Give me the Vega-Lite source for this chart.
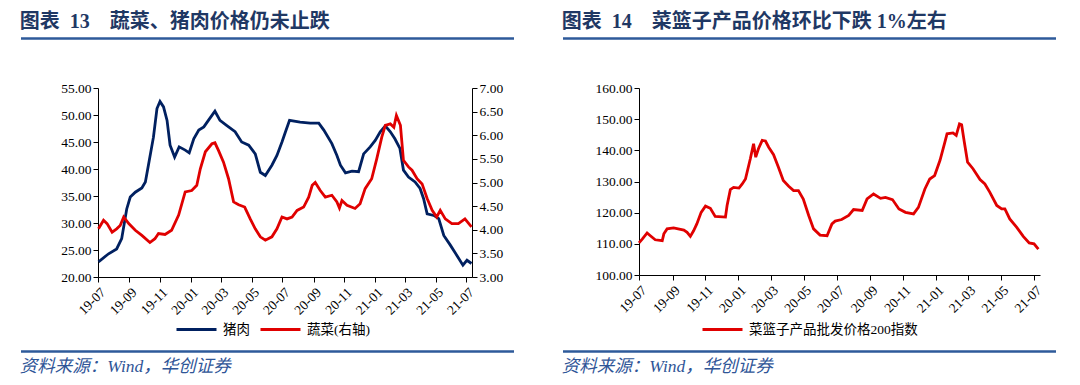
{
  "$schema": "https://vega.github.io/schema/vega-lite/v6.json",
  "background": "white",
  "padding": {"left": 19, "top": 12, "right": 0, "bottom": 0},
  "config": {
    "view": {"stroke": null},
    "axis": {"domainColor": "#000000", "tickColor": "#000000", "labelColor": "#000000", "labelFont": "Liberation Serif", "labelFontSize": 13.5, "tickSize": 5, "grid": false},
    "legend": {"orient": "none", "direction": "horizontal", "symbolType": "stroke", "symbolSize": 1600, "symbolStrokeWidth": 3, "labelFont": "Liberation Serif, Noto Sans CJK SC", "labelFontSize": 13.5, "labelColor": "#000000", "columnPadding": 4, "labelOffset": 5, "labelLimit": 400},
    "title": {"font": "Liberation Serif, Noto Sans CJK SC"}
  },
  "datasets": {
    "pork": [
      {"date": "2019-07-02", "value": 22.8}, {"date": "2019-07-22", "value": 24.3}, {"date": "2019-08-07", "value": 25.2}, {"date": "2019-08-17", "value": 27.1}, {"date": "2019-08-27", "value": 32.6}, {"date": "2019-09-03", "value": 34.8}, {"date": "2019-09-13", "value": 35.7}, {"date": "2019-09-26", "value": 36.5}, {"date": "2019-10-03", "value": 37.6}, {"date": "2019-10-09", "value": 40.7}, {"date": "2019-10-19", "value": 45.9}, {"date": "2019-10-26", "value": 51.2}, {"date": "2019-11-01", "value": 52.5}, {"date": "2019-11-08", "value": 51.5}, {"date": "2019-11-15", "value": 49.0}, {"date": "2019-11-21", "value": 44.4}, {"date": "2019-11-30", "value": 42.2}, {"date": "2019-12-09", "value": 44.1}, {"date": "2019-12-21", "value": 43.5}, {"date": "2019-12-29", "value": 43.0},
      {"date": "2020-01-07", "value": 45.6}, {"date": "2020-01-17", "value": 47.2}, {"date": "2020-01-27", "value": 47.8}, {"date": "2020-02-05", "value": 49.0}, {"date": "2020-02-18", "value": 50.7}, {"date": "2020-02-28", "value": 49.0}, {"date": "2020-03-12", "value": 48.1}, {"date": "2020-03-29", "value": 46.9}, {"date": "2020-04-11", "value": 45.0}, {"date": "2020-04-25", "value": 44.4}, {"date": "2020-05-08", "value": 42.8}, {"date": "2020-05-18", "value": 39.4}, {"date": "2020-05-28", "value": 38.8}, {"date": "2020-06-10", "value": 40.7}, {"date": "2020-06-20", "value": 42.5}, {"date": "2020-06-30", "value": 45.0}, {"date": "2020-07-07", "value": 46.9}, {"date": "2020-07-15", "value": 49.0}, {"date": "2020-08-05", "value": 48.7}, {"date": "2020-08-25", "value": 48.5}, {"date": "2020-09-11", "value": 48.5}, {"date": "2020-09-21", "value": 47.2}, {"date": "2020-10-07", "value": 44.7}, {"date": "2020-10-17", "value": 42.5}, {"date": "2020-10-24", "value": 40.7}, {"date": "2020-11-03", "value": 39.3}, {"date": "2020-11-16", "value": 39.6}, {"date": "2020-11-29", "value": 39.5}, {"date": "2020-12-09", "value": 42.8}, {"date": "2020-12-22", "value": 44.1},
      {"date": "2021-01-01", "value": 45.3}, {"date": "2021-01-11", "value": 46.9}, {"date": "2021-01-21", "value": 48.0}, {"date": "2021-01-31", "value": 46.9}, {"date": "2021-02-09", "value": 45.6}, {"date": "2021-02-19", "value": 43.8}, {"date": "2021-02-26", "value": 39.8}, {"date": "2021-03-08", "value": 38.5}, {"date": "2021-03-21", "value": 37.6}, {"date": "2021-03-31", "value": 36.4}, {"date": "2021-04-07", "value": 34.5}, {"date": "2021-04-14", "value": 31.7}, {"date": "2021-04-27", "value": 31.4}, {"date": "2021-05-07", "value": 30.8}, {"date": "2021-05-17", "value": 27.7}, {"date": "2021-05-30", "value": 25.9}, {"date": "2021-06-12", "value": 24.0}, {"date": "2021-06-24", "value": 22.2}, {"date": "2021-07-02", "value": 23.1}, {"date": "2021-07-11", "value": 22.5}
    ],
    "veg": [
      {"date": "2019-07-02", "value": 4.02}, {"date": "2019-07-12", "value": 4.20}, {"date": "2019-07-19", "value": 4.13}, {"date": "2019-07-29", "value": 3.95}, {"date": "2019-08-07", "value": 4.02}, {"date": "2019-08-14", "value": 4.09}, {"date": "2019-08-21", "value": 4.27}, {"date": "2019-08-31", "value": 4.13}, {"date": "2019-09-13", "value": 3.99}, {"date": "2019-09-26", "value": 3.88}, {"date": "2019-10-12", "value": 3.73}, {"date": "2019-10-22", "value": 3.81}, {"date": "2019-10-29", "value": 3.92}, {"date": "2019-11-11", "value": 3.90}, {"date": "2019-11-24", "value": 3.99}, {"date": "2019-12-08", "value": 4.31}, {"date": "2019-12-21", "value": 4.80},
      {"date": "2020-01-03", "value": 4.83}, {"date": "2020-01-13", "value": 4.94}, {"date": "2020-01-20", "value": 5.29}, {"date": "2020-01-30", "value": 5.65}, {"date": "2020-02-12", "value": 5.82}, {"date": "2020-02-18", "value": 5.84}, {"date": "2020-02-25", "value": 5.68}, {"date": "2020-03-06", "value": 5.43}, {"date": "2020-03-16", "value": 5.08}, {"date": "2020-03-26", "value": 4.59}, {"date": "2020-04-05", "value": 4.53}, {"date": "2020-04-17", "value": 4.48}, {"date": "2020-04-28", "value": 4.23}, {"date": "2020-05-08", "value": 4.02}, {"date": "2020-05-18", "value": 3.85}, {"date": "2020-05-28", "value": 3.78}, {"date": "2020-06-10", "value": 3.85}, {"date": "2020-06-20", "value": 4.02}, {"date": "2020-06-30", "value": 4.27}, {"date": "2020-07-10", "value": 4.23}, {"date": "2020-07-20", "value": 4.27}, {"date": "2020-07-30", "value": 4.41}, {"date": "2020-08-12", "value": 4.48}, {"date": "2020-08-22", "value": 4.69}, {"date": "2020-08-29", "value": 4.94}, {"date": "2020-09-04", "value": 5.00}, {"date": "2020-09-14", "value": 4.83}, {"date": "2020-09-24", "value": 4.69}, {"date": "2020-10-07", "value": 4.73}, {"date": "2020-10-17", "value": 4.59}, {"date": "2020-10-22", "value": 4.46}, {"date": "2020-10-27", "value": 4.62}, {"date": "2020-11-06", "value": 4.52}, {"date": "2020-11-22", "value": 4.45}, {"date": "2020-12-02", "value": 4.55}, {"date": "2020-12-12", "value": 4.87}, {"date": "2020-12-25", "value": 5.08},
      {"date": "2021-01-04", "value": 5.50}, {"date": "2021-01-14", "value": 5.96}, {"date": "2021-01-21", "value": 6.21}, {"date": "2021-01-31", "value": 6.24}, {"date": "2021-02-07", "value": 6.17}, {"date": "2021-02-12", "value": 6.42}, {"date": "2021-02-20", "value": 6.21}, {"date": "2021-02-26", "value": 5.47}, {"date": "2021-03-08", "value": 5.33}, {"date": "2021-03-15", "value": 5.26}, {"date": "2021-03-25", "value": 5.08}, {"date": "2021-04-04", "value": 4.97}, {"date": "2021-04-14", "value": 4.66}, {"date": "2021-04-24", "value": 4.41}, {"date": "2021-05-03", "value": 4.27}, {"date": "2021-05-10", "value": 4.41}, {"date": "2021-05-20", "value": 4.23}, {"date": "2021-06-02", "value": 4.13}, {"date": "2021-06-15", "value": 4.13}, {"date": "2021-06-28", "value": 4.23}, {"date": "2021-07-11", "value": 4.06}
    ],
    "basket": [
      {"date": "2019-07-01", "value": 110.3}, {"date": "2019-07-07", "value": 111.5}, {"date": "2019-07-16", "value": 113.5}, {"date": "2019-07-22", "value": 112.6}, {"date": "2019-07-31", "value": 111.3}, {"date": "2019-08-13", "value": 111.0}, {"date": "2019-08-16", "value": 113.2}, {"date": "2019-08-22", "value": 114.8}, {"date": "2019-09-03", "value": 115.1}, {"date": "2019-09-22", "value": 114.4}, {"date": "2019-09-28", "value": 113.7}, {"date": "2019-10-04", "value": 112.4}, {"date": "2019-10-10", "value": 114.2}, {"date": "2019-10-16", "value": 116.4}, {"date": "2019-10-24", "value": 120.1}, {"date": "2019-11-01", "value": 122.1}, {"date": "2019-11-10", "value": 121.4}, {"date": "2019-11-19", "value": 118.8}, {"date": "2019-12-08", "value": 118.6}, {"date": "2019-12-11", "value": 122.3}, {"date": "2019-12-17", "value": 127.4}, {"date": "2019-12-23", "value": 128.1},
      {"date": "2020-01-02", "value": 127.9}, {"date": "2020-01-08", "value": 129.2}, {"date": "2020-01-14", "value": 130.8}, {"date": "2020-01-23", "value": 137.3}, {"date": "2020-01-29", "value": 142.1}, {"date": "2020-02-02", "value": 137.8}, {"date": "2020-02-07", "value": 140.5}, {"date": "2020-02-14", "value": 143.2}, {"date": "2020-02-20", "value": 143.0}, {"date": "2020-02-26", "value": 141.0}, {"date": "2020-03-06", "value": 138.6}, {"date": "2020-03-15", "value": 134.6}, {"date": "2020-03-24", "value": 130.3}, {"date": "2020-04-03", "value": 128.5}, {"date": "2020-04-12", "value": 127.1}, {"date": "2020-04-21", "value": 127.1}, {"date": "2020-04-30", "value": 124.4}, {"date": "2020-05-10", "value": 119.1}, {"date": "2020-05-19", "value": 114.8}, {"date": "2020-05-31", "value": 112.8}, {"date": "2020-06-13", "value": 112.6}, {"date": "2020-06-22", "value": 116.4}, {"date": "2020-06-28", "value": 117.3}, {"date": "2020-07-10", "value": 117.8}, {"date": "2020-07-23", "value": 119.1}, {"date": "2020-08-01", "value": 121.0}, {"date": "2020-08-17", "value": 120.7}, {"date": "2020-08-26", "value": 124.4}, {"date": "2020-09-07", "value": 126.0}, {"date": "2020-09-20", "value": 124.6}, {"date": "2020-09-29", "value": 124.9}, {"date": "2020-10-12", "value": 124.2}, {"date": "2020-10-24", "value": 121.2}, {"date": "2020-11-05", "value": 120.1}, {"date": "2020-11-20", "value": 119.6}, {"date": "2020-11-29", "value": 121.7}, {"date": "2020-12-11", "value": 127.6}, {"date": "2020-12-20", "value": 130.8}, {"date": "2020-12-29", "value": 131.9},
      {"date": "2021-01-08", "value": 136.8}, {"date": "2021-01-17", "value": 142.6}, {"date": "2021-01-21", "value": 145.3}, {"date": "2021-02-01", "value": 145.6}, {"date": "2021-02-07", "value": 144.8}, {"date": "2021-02-13", "value": 148.5}, {"date": "2021-02-17", "value": 148.2}, {"date": "2021-02-22", "value": 142.6}, {"date": "2021-02-28", "value": 136.2}, {"date": "2021-03-10", "value": 134.1}, {"date": "2021-03-23", "value": 130.6}, {"date": "2021-04-01", "value": 129.2}, {"date": "2021-04-10", "value": 126.6}, {"date": "2021-04-23", "value": 122.3}, {"date": "2021-05-02", "value": 121.2}, {"date": "2021-05-08", "value": 121.2}, {"date": "2021-05-17", "value": 118.0}, {"date": "2021-05-30", "value": 115.3}, {"date": "2021-06-11", "value": 112.4}, {"date": "2021-06-22", "value": 110.3}, {"date": "2021-07-01", "value": 110.0}, {"date": "2021-07-09", "value": 108.3}
    ],
    "bar": [{"s": 0, "e": 1}]
  },
  "spacing": 45,
  "resolve": {"scale": {"color": "independent", "x": "independent", "y": "independent"}, "legend": {"color": "independent"}},
  "hconcat": [
    {
      "spacing": 41,
      "vconcat": [
        {
          "width": 493, "height": 1,
          "title": {"text": "图表\u00a0\u00a013\u00a0\u00a0\u00a0\u00a0蔬菜、猪肉价格仍未止跌", "anchor": "start", "fontSize": 20, "fontWeight": "bold", "color": "#1F3864", "offset": 5},
          "data": {"name": "bar"},
          "mark": {"type": "rule", "color": "#2E5A9A", "strokeWidth": 2.3},
          "encoding": {"x": {"field": "s", "type": "quantitative", "scale": {"domain": [0, 1]}, "axis": null}, "x2": {"field": "e"}}
        },
        {
          "spacing": 33,
          "vconcat": [
            {
              "width": 451, "height": 189,
              "encoding": {
                "x": {"field": "date", "type": "temporal", "scale": {"type": "utc", "range": [77, 451], "domain": [{"year": 2019, "month": 7, "date": 1, "utc": true}, {"year": 2021, "month": 7, "date": 12, "utc": true}]}, "axis": {"format": "%y-%m", "labelAngle": -45, "tickCount": {"interval": "month", "step": 2}, "title": null, "labelOverlap": false, "labelFlush": false, "labelPadding": 3}}
              },
              "layer": [
                {
                  "data": {"name": "pork"},
                  "mark": {"type": "line", "strokeWidth": 2.8},
                  "encoding": {
                    "y": {"field": "value", "type": "quantitative", "scale": {"domain": [20, 55]}, "axis": {"orient": "left", "offset": -77, "values": [20, 25, 30, 35, 40, 45, 50, 55], "format": ".2f", "title": null, "labelPadding": 2}},
                    "color": {"datum": "猪肉", "type": "nominal", "scale": {"domain": ["猪肉", "蔬菜(右轴)"], "range": ["#002060", "#E00000"]}, "legend": {"title": null, "legendX": 154, "legendY": 270}}
                  }
                },
                {
                  "data": {"name": "veg"},
                  "mark": {"type": "line", "strokeWidth": 2.8},
                  "encoding": {
                    "y": {"field": "value", "type": "quantitative", "scale": {"domain": [3, 7]}, "axis": {"orient": "right", "values": [3, 3.5, 4, 4.5, 5, 5.5, 6, 6.5, 7], "format": ".2f", "title": null, "labelPadding": 2}},
                    "color": {"datum": "蔬菜(右轴)", "type": "nominal", "scale": {"domain": ["猪肉", "蔬菜(右轴)"], "range": ["#002060", "#E00000"]}, "legend": {"title": null, "legendX": 154, "legendY": 270}}
                  }
                }
              ],
              "resolve": {"scale": {"y": "independent"}, "axis": {"y": "independent"}}
            },
            {
              "width": 493, "height": 1,
              "title": {"text": "资料来源：Wind，华创证券", "orient": "bottom", "anchor": "start", "fontSize": 17.5, "fontStyle": "italic", "fontWeight": "normal", "color": "#2F5597", "offset": 5},
              "data": {"name": "bar"},
              "mark": {"type": "rule", "color": "#2E5A9A", "strokeWidth": 2.3},
              "encoding": {"x": {"field": "s", "type": "quantitative", "scale": {"domain": [0, 1]}, "axis": null}, "x2": {"field": "e"}}
            }
          ]
        }
      ]
    },
    {
      "spacing": 41,
      "vconcat": [
        {
          "width": 493, "height": 1,
          "title": {"text": "图表\u00a0\u00a014\u00a0\u00a0\u00a0\u00a0菜篮子产品价格环比下跌\u00a01%左右", "anchor": "start", "fontSize": 20, "fontWeight": "bold", "color": "#1F3864", "offset": 5},
          "data": {"name": "bar"},
          "mark": {"type": "rule", "color": "#2E5A9A", "strokeWidth": 2.3},
          "encoding": {"x": {"field": "s", "type": "quantitative", "scale": {"domain": [0, 1]}, "axis": null}, "x2": {"field": "e"}}
        },
        {
          "spacing": 35,
          "vconcat": [
            {
              "width": 477, "height": 187,
              "data": {"name": "basket"},
              "mark": {"type": "line", "strokeWidth": 2.8},
              "encoding": {
                "x": {"field": "date", "type": "temporal", "scale": {"type": "utc", "range": [76, 477], "domain": [{"year": 2019, "month": 7, "date": 1, "utc": true}, {"year": 2021, "month": 7, "date": 12, "utc": true}]}, "axis": {"format": "%y-%m", "labelAngle": -45, "tickCount": {"interval": "month", "step": 2}, "title": null, "labelOverlap": false, "labelFlush": false, "labelPadding": 3}},
                "y": {"field": "value", "type": "quantitative", "scale": {"domain": [100, 160]}, "axis": {"offset": -76, "values": [100, 110, 120, 130, 140, 150, 160], "format": ".2f", "title": null, "labelPadding": 2}},
                "color": {"datum": "菜篮子产品批发价格200指数", "type": "nominal", "scale": {"range": ["#E00000"]}, "legend": {"title": null, "legendX": 138, "legendY": 270}}
              }
            },
            {
              "width": 493, "height": 1,
              "title": {"text": "资料来源：Wind，华创证券", "orient": "bottom", "anchor": "start", "fontSize": 17.5, "fontStyle": "italic", "fontWeight": "normal", "color": "#2F5597", "offset": 5},
              "data": {"name": "bar"},
              "mark": {"type": "rule", "color": "#2E5A9A", "strokeWidth": 2.3},
              "encoding": {"x": {"field": "s", "type": "quantitative", "scale": {"domain": [0, 1]}, "axis": null}, "x2": {"field": "e"}}
            }
          ]
        }
      ]
    }
  ]
}
